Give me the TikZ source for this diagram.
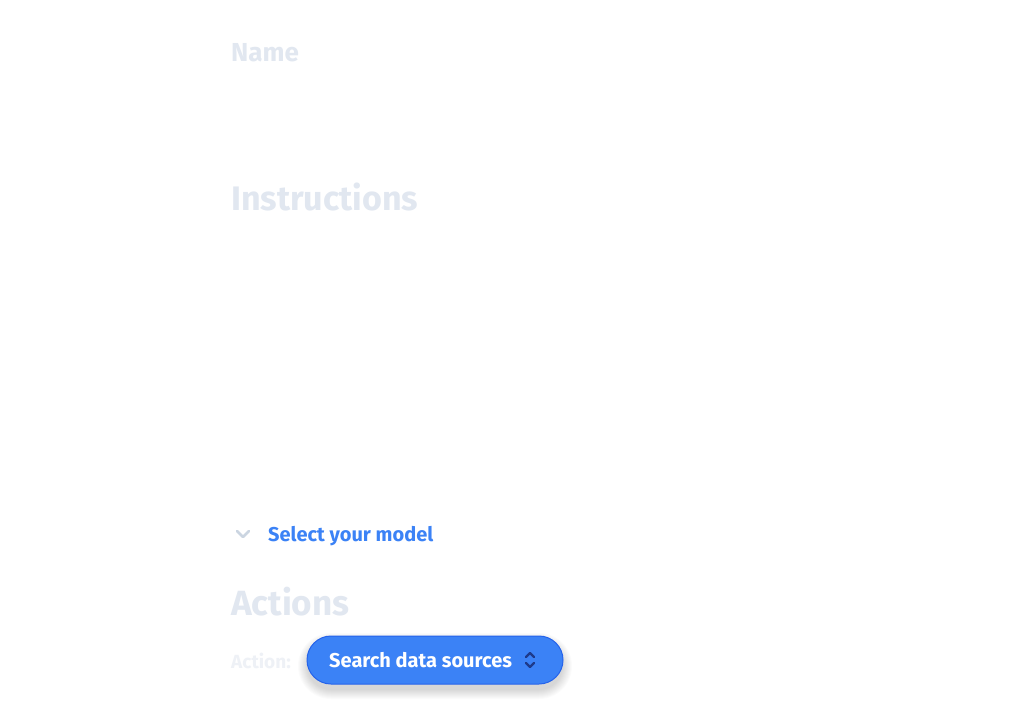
\documentclass[tikz,border=0pt]{standalone}
\usepackage{fontspec}
\setmainfont{Fira Sans}
\definecolor{faint}{HTML}{E1E7F0}
\definecolor{faintest}{HTML}{EEF1F6}
\definecolor{blue5}{HTML}{3B82F6}
\definecolor{blue6}{HTML}{2563EB}
\definecolor{blue9}{HTML}{1E3A8A}
\definecolor{chev}{HTML}{CBD5E1}
\tikzset{
  txt/.style={anchor=base west, inner sep=0pt, font=\bfseries},
  icon/.style={line width=2.2pt, line cap=round, line join=round},
}
\begin{document}
\begin{tikzpicture}[x=1pt,y=1pt]
\useasboundingbox[fill=white] (0,0) rectangle (1024,-717);
% Name
\node[txt, text=faint, font=\bfseries\fontsize{26}{26}\selectfont] (name) at (231,-62) {Name};
% Instructions
\node[txt, text=faint, font=\bfseries\fontsize{34}{34}\selectfont] (instr) at (231,-210) {Instructions};
% Select your model
\node[txt, text=blue5, font=\bfseries\fontsize{20}{20}\selectfont] (model) at (268,-541) {Select your model};
\draw[chev, icon, line width=2.6pt] (237,-531) -- (243,-537) -- (249,-531);
% Actions
\node[txt, text=faint, font=\bfseries\fontsize{35}{35}\selectfont] (actions) at (231,-615) {Actions};
% Action:
\node[txt, text=faintest, font=\bfseries\fontsize{19}{19}\selectfont] (action) at (231,-668) {Action:};
% Button shadow
\foreach \r in {0,1,...,9}{
  \fill[black, opacity=0.016, rounded corners={(24+\r)*1pt}]
    (307-\r,-642+\r) rectangle (563+\r,-690-\r);
}
% Button
\node[draw=blue6, fill=blue5, line width=1pt, rounded corners=24pt, minimum width=256pt, minimum height=48pt]
      (btn) at (435,-660) {};
\node[txt, text=white, font=\bfseries\fontsize{20}{20}\selectfont] (btntext) at (329,-667) {Search data sources};
\draw[blue9, icon]
  ([shift={(91pt,3pt)}]btn.center) -- ([shift={(95pt,7pt)}]btn.center) -- ([shift={(99pt,3pt)}]btn.center)
  ([shift={(91pt,-3pt)}]btn.center) -- ([shift={(95pt,-7pt)}]btn.center) -- ([shift={(99pt,-3pt)}]btn.center);
\end{tikzpicture}
\end{document}
